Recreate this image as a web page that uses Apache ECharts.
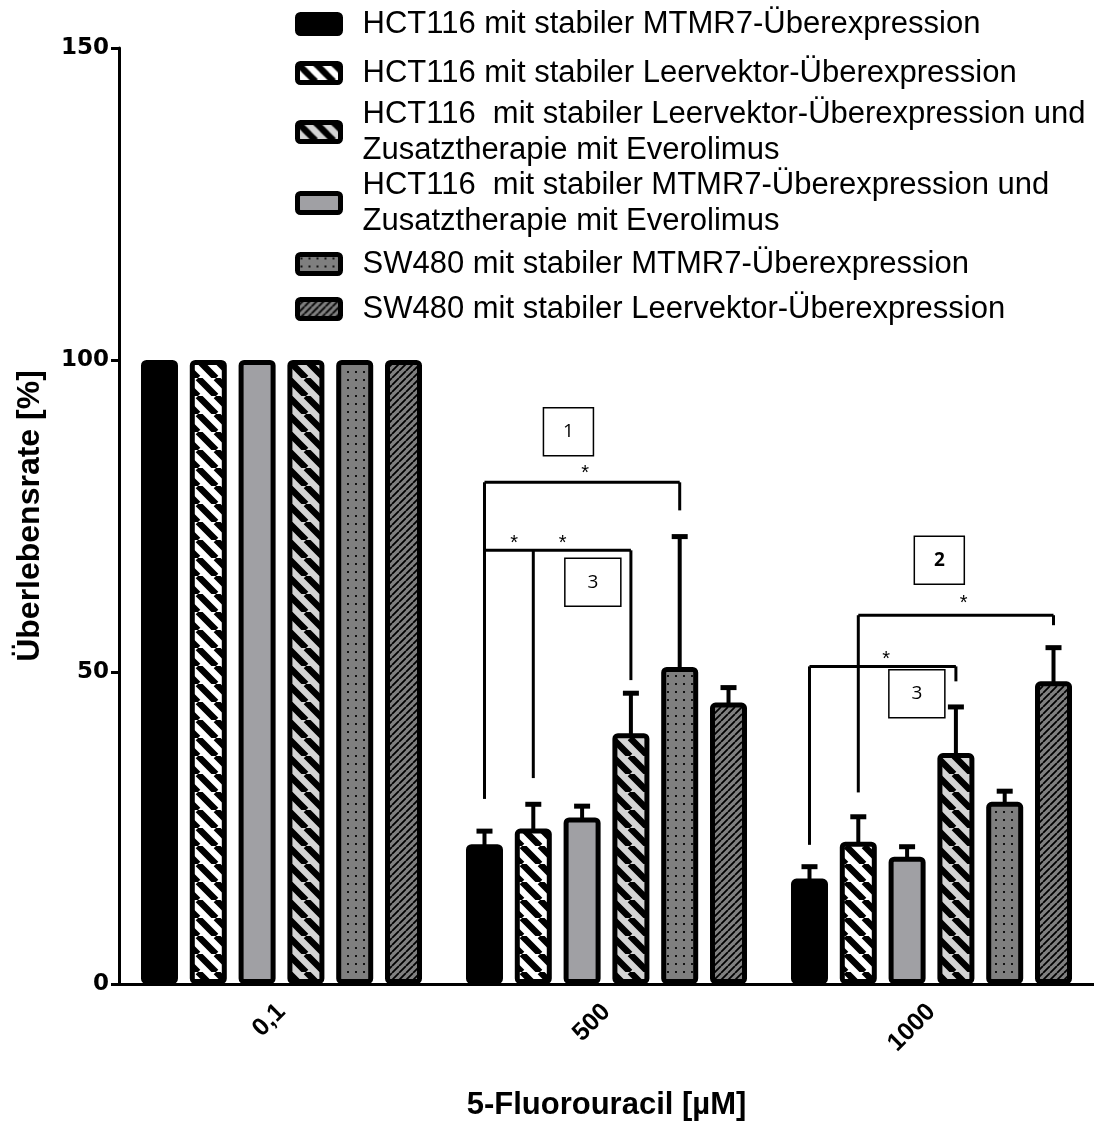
<!DOCTYPE html>
<html>
<head>
<meta charset="utf-8">
<script src="https://cdn.jsdelivr.net/npm/echarts@6/dist/echarts.min.js"></script>
<style>
  html, body { margin: 0; padding: 0; background: #fff; }
  #chart { width: 1094px; height: 1126px; }
</style>
</head>
<body>
<div id="chart"></div>
<script>
// 5-FU Konzentrationen
var categories = ['0,1', '500', '1000'];

// Reihenfolge der Balken innerhalb einer Gruppe
var nameMtmr7Hct = 'HCT116 mit stabiler MTMR7-Überexpression';
var nameLeerHct = 'HCT116 mit stabiler Leervektor-Überexpression';
var nameMtmr7Evero = 'HCT116  mit stabiler MTMR7-Überexpression und\nZusatztherapie mit Everolimus';
var nameLeerEvero = 'HCT116  mit stabiler Leervektor-Überexpression und\nZusatztherapie mit Everolimus';
var nameMtmr7Sw = 'SW480 mit stabiler MTMR7-Überexpression';
var nameLeerSw = 'SW480 mit stabiler Leervektor-Überexpression';

// Mittelwerte [%]
var mtmr7Hct = [100, 22.4, 16.9];
var leerHct = [100, 24.9, 22.8];
var mtmr7Evero = [100, 26.7, 20.4];
var leerEvero = [100, 40.2, 37.0];
var mtmr7Sw = [100, 50.8, 29.2];
var leerSw = [100, 45.1, 48.5];

// Fehlerbalken (nur nach oben)
var errMtmr7Hct = [0, 2.1, 1.9];
var errLeerHct = [0, 3.9, 4.0];
var errMtmr7Evero = [0, 1.8, 1.6];
var errLeerEvero = [0, 6.4, 7.4];
var errMtmr7Sw = [0, 20.9, 1.7];
var errLeerSw = [0, 2.4, 5.4];

// Signifikanz-Klammern: Gruppe, Höhe, Beine [Balken, unteres Ende]
var bracketCat = [1, 1, 2, 2];
var bracketLevel = [80.4, 69.5, 59.1, 50.9];
var bracketLegs = [
    [[0, 29.7], [4, 75.9]],
    [[0, 29.7], [1, 33.0], [3, 48.7]],
    [[1, 30.7], [5, 57.5]],
    [[0, 22.3], [3, 48.5]]
];

// Kästchen mit Nummern
var boxCat = [1, 1, 2, 2];
var boxSlot = [1.72, 2.22, 2.66, 2.2];
var boxValue = [88.5, 64.4, 67.9, 46.5];
var boxLabel = ['1', '3', '2', '3'];

// Sternchen
var starCat = [1, 1, 1, 2, 2];
var starSlot = [2.06, 0.61, 1.6, 3.16, 1.57];
var starValue = [82.5, 71.3, 71.3, 61.7, 52.6];

var barW = 37;
var barGapRatio = 0.319;
var slotPx = barW * (1 + barGapRatio);

/** Muster */
function stripes(bg, fg, period, lineW, down) {
    var c = document.createElement('canvas');
    c.width = period;
    c.height = period;
    var ctx = c.getContext('2d');
    ctx.fillStyle = bg;
    ctx.fillRect(0, 0, period, period);
    ctx.strokeStyle = fg;
    ctx.lineWidth = lineW;
    ctx.beginPath();
    for (var k = -1; k <= 1; k++) {
        if (down) {
            ctx.moveTo(k * period, 0);
            ctx.lineTo(k * period + period, period);
        } else {
            ctx.moveTo(k * period, period);
            ctx.lineTo(k * period + period, 0);
        }
    }
    ctx.stroke();
    return { image: c, repeat: 'repeat' };
}

function dots(bg, fg, size, dot) {
    var c = document.createElement('canvas');
    c.width = size;
    c.height = size;
    var ctx = c.getContext('2d');
    ctx.fillStyle = bg;
    ctx.fillRect(0, 0, size, size);
    ctx.fillStyle = fg;
    ctx.fillRect(size / 2 - dot / 2, size / 2 - dot / 2, dot, dot);
    return { image: c, repeat: 'repeat' };
}

var fills = [
    '#000000',
    stripes('#ffffff', '#000000', 18, 6.5, true),
    '#a0a0a4',
    stripes('#d4d4d4', '#000000', 18, 6.5, true),
    dots('#7f7f7f', '#111111', 8, 2),
    stripes('#808080', '#000000', 7, 1.8, false)
];

var names = [nameMtmr7Hct, nameLeerHct, nameMtmr7Evero, nameLeerEvero, nameMtmr7Sw, nameLeerSw];
var means = [mtmr7Hct, leerHct, mtmr7Evero, leerEvero, mtmr7Sw, leerSw];
var errs = [errMtmr7Hct, errLeerHct, errMtmr7Evero, errLeerEvero, errMtmr7Sw, errLeerSw];

var series = [];
for (var j = 0; j < names.length; j++) {
    series.push({
        name: names[j],
        type: 'bar',
        barWidth: barW,
        barGap: (barGapRatio * 100) + '%',
        data: means[j],
        itemStyle: {
            color: fills[j],
            borderColor: '#000',
            borderWidth: 5,
            borderRadius: 3
        },
        emphasis: { disabled: true },
        z: 2
    });
}

var errData = [];
for (var j = 0; j < names.length; j++) {
    for (var i = 0; i < categories.length; i++) {
        if (errs[j][i] > 0)
            errData.push([i, j, means[j][i], errs[j][i]]);
    }
}

series.push({
    type: 'custom',
    silent: true,
    z: 1,
    data: errData,
    renderItem: function(params, api) {
        var cat = api.value(0), slot = api.value(1), m = api.value(2), e = api.value(3);
        var base = api.coord([cat, m]);
        var top = api.coord([cat, m + e]);
        var x = base[0] + (slot - 2.5) * slotPx;
        return {
            type: 'group',
            children: [
                { type: 'line', shape: { x1: x, y1: base[1] + 3, x2: x, y2: top[1] }, style: { stroke: '#000', lineWidth: 4 } },
                { type: 'line', shape: { x1: x - 8, y1: top[1], x2: x + 8, y2: top[1] }, style: { stroke: '#000', lineWidth: 5 } }
            ]
        };
    }
});

series.push({
    type: 'custom',
    silent: true,
    z: 3,
    data: bracketCat.map(function(c, k) { return [c, bracketLevel[k], k]; }),
    renderItem: function(params, api) {
        var k = api.value(2);
        var cat = api.value(0);
        var lv = api.coord([cat, api.value(1)]);
        var legs = bracketLegs[k];
        var xs = legs.map(function(l) { return lv[0] + (l[0] - 2.5) * slotPx; });
        var children = [{
            type: 'line',
            shape: { x1: Math.min.apply(null, xs), y1: lv[1], x2: Math.max.apply(null, xs), y2: lv[1] },
            style: { stroke: '#000', lineWidth: 3 }
        }];
        legs.forEach(function(l, n) {
            var b = api.coord([cat, l[1]]);
            children.push({
                type: 'line',
                shape: { x1: xs[n], y1: lv[1], x2: xs[n], y2: b[1] },
                style: { stroke: '#000', lineWidth: 3 }
            });
        });
        return { type: 'group', children: children };
    }
});

series.push({
    type: 'custom',
    silent: true,
    z: 4,
    data: boxCat.map(function(c, k) { return [c, boxValue[k], k]; }),
    renderItem: function(params, api) {
        var k = api.value(2);
        var p = api.coord([api.value(0), api.value(1)]);
        var x = p[0] + (boxSlot[k] - 2.5) * slotPx;
        var w = boxLabel[k] === '3' ? 56 : 50;
        return {
            type: 'group',
            children: [
                { type: 'rect', shape: { x: x - w / 2, y: p[1] - 24, width: w, height: 48 }, style: { fill: '#fff', stroke: '#000', lineWidth: 1.5 } },
                { type: 'text', x: x, y: p[1], style: { text: boxLabel[k], align: 'center', verticalAlign: 'middle', fontFamily: 'Open Sans', fontSize: 19, fontWeight: boxLabel[k] === '2' ? 'bold' : 'normal', fill: '#000' } }
            ]
        };
    }
});

series.push({
    type: 'custom',
    silent: true,
    z: 4,
    data: starCat.map(function(c, k) { return [c, starValue[k], k]; }),
    renderItem: function(params, api) {
        var k = api.value(2);
        var p = api.coord([api.value(0), api.value(1)]);
        var x = p[0] + (starSlot[k] - 2.5) * slotPx;
        return {
            type: 'text', x: x, y: p[1] + 4,
            style: { text: '*', align: 'center', verticalAlign: 'middle', fontFamily: 'Liberation Sans', fontSize: 20, fill: '#000' }
        };
    }
});

// Legende: Reihenfolge wie im Original
var legendOrder = [nameMtmr7Hct, nameLeerHct, nameLeerEvero, nameMtmr7Evero, nameMtmr7Sw, nameLeerSw];
var legendTop = [1, 50, 91, 162, 241, 286];
var iconPath = 'path://M3,0H40A3,3,0,0,1,43,3V16A3,3,0,0,1,40,19H3A3,3,0,0,1,0,16V3A3,3,0,0,1,3,0Z';
var legends = legendOrder.map(function(n, k) {
    return {
        data: [{ name: n, icon: iconPath }],
        left: 290,
        top: legendTop[k],
        orient: 'vertical',
        selectedMode: false,
        itemWidth: 43,
        itemHeight: 19,
        itemStyle: { borderColor: '#000', borderWidth: 5 },
        textStyle: {
            fontFamily: 'Liberation Sans',
            fontSize: 31,
            lineHeight: 36,
            color: '#000',
            padding: [0, 0, 0, 17]
        }
    };
});

var chart = echarts.init(document.getElementById('chart'));
chart.setOption({
    animation: false,
    backgroundColor: '#fff',
    legend: legends,
    grid: { left: 119, right: 0, top: 48, bottom: 137 },
    xAxis: {
        type: 'category',
        data: categories,
        name: '5-Fluorouracil [µM]',
        nameLocation: 'middle',
        nameGap: 106,
        nameTextStyle: { fontFamily: 'Liberation Sans', fontWeight: 'bold', fontSize: 31, color: '#000' },
        axisLine: { lineStyle: { color: '#000', width: 3 } },
        axisTick: { alignWithLabel: true, length: 8, lineStyle: { color: '#000', width: 3 } },
        axisLabel: { rotate: 45, margin: 24, fontFamily: 'Liberation Sans', fontWeight: 'bold', fontSize: 25, color: '#000' }
    },
    yAxis: {
        type: 'value',
        min: 0,
        max: 150,
        interval: 50,
        name: 'Überlebensrate [%]',
        nameLocation: 'middle',
        nameGap: 73,
        nameTextStyle: { fontFamily: 'Liberation Sans', fontWeight: 'bold', fontSize: 32, color: '#000' },
        axisLine: { show: true, lineStyle: { color: '#000', width: 3 } },
        axisTick: { show: true, length: 8, lineStyle: { color: '#000', width: 3 } },
        axisLabel: { margin: 10, fontFamily: 'DejaVu Sans', fontWeight: 'bold', fontSize: 23, color: '#000' },
        splitLine: { show: false }
    },
    series: series
});
</script>
</body>
</html>
